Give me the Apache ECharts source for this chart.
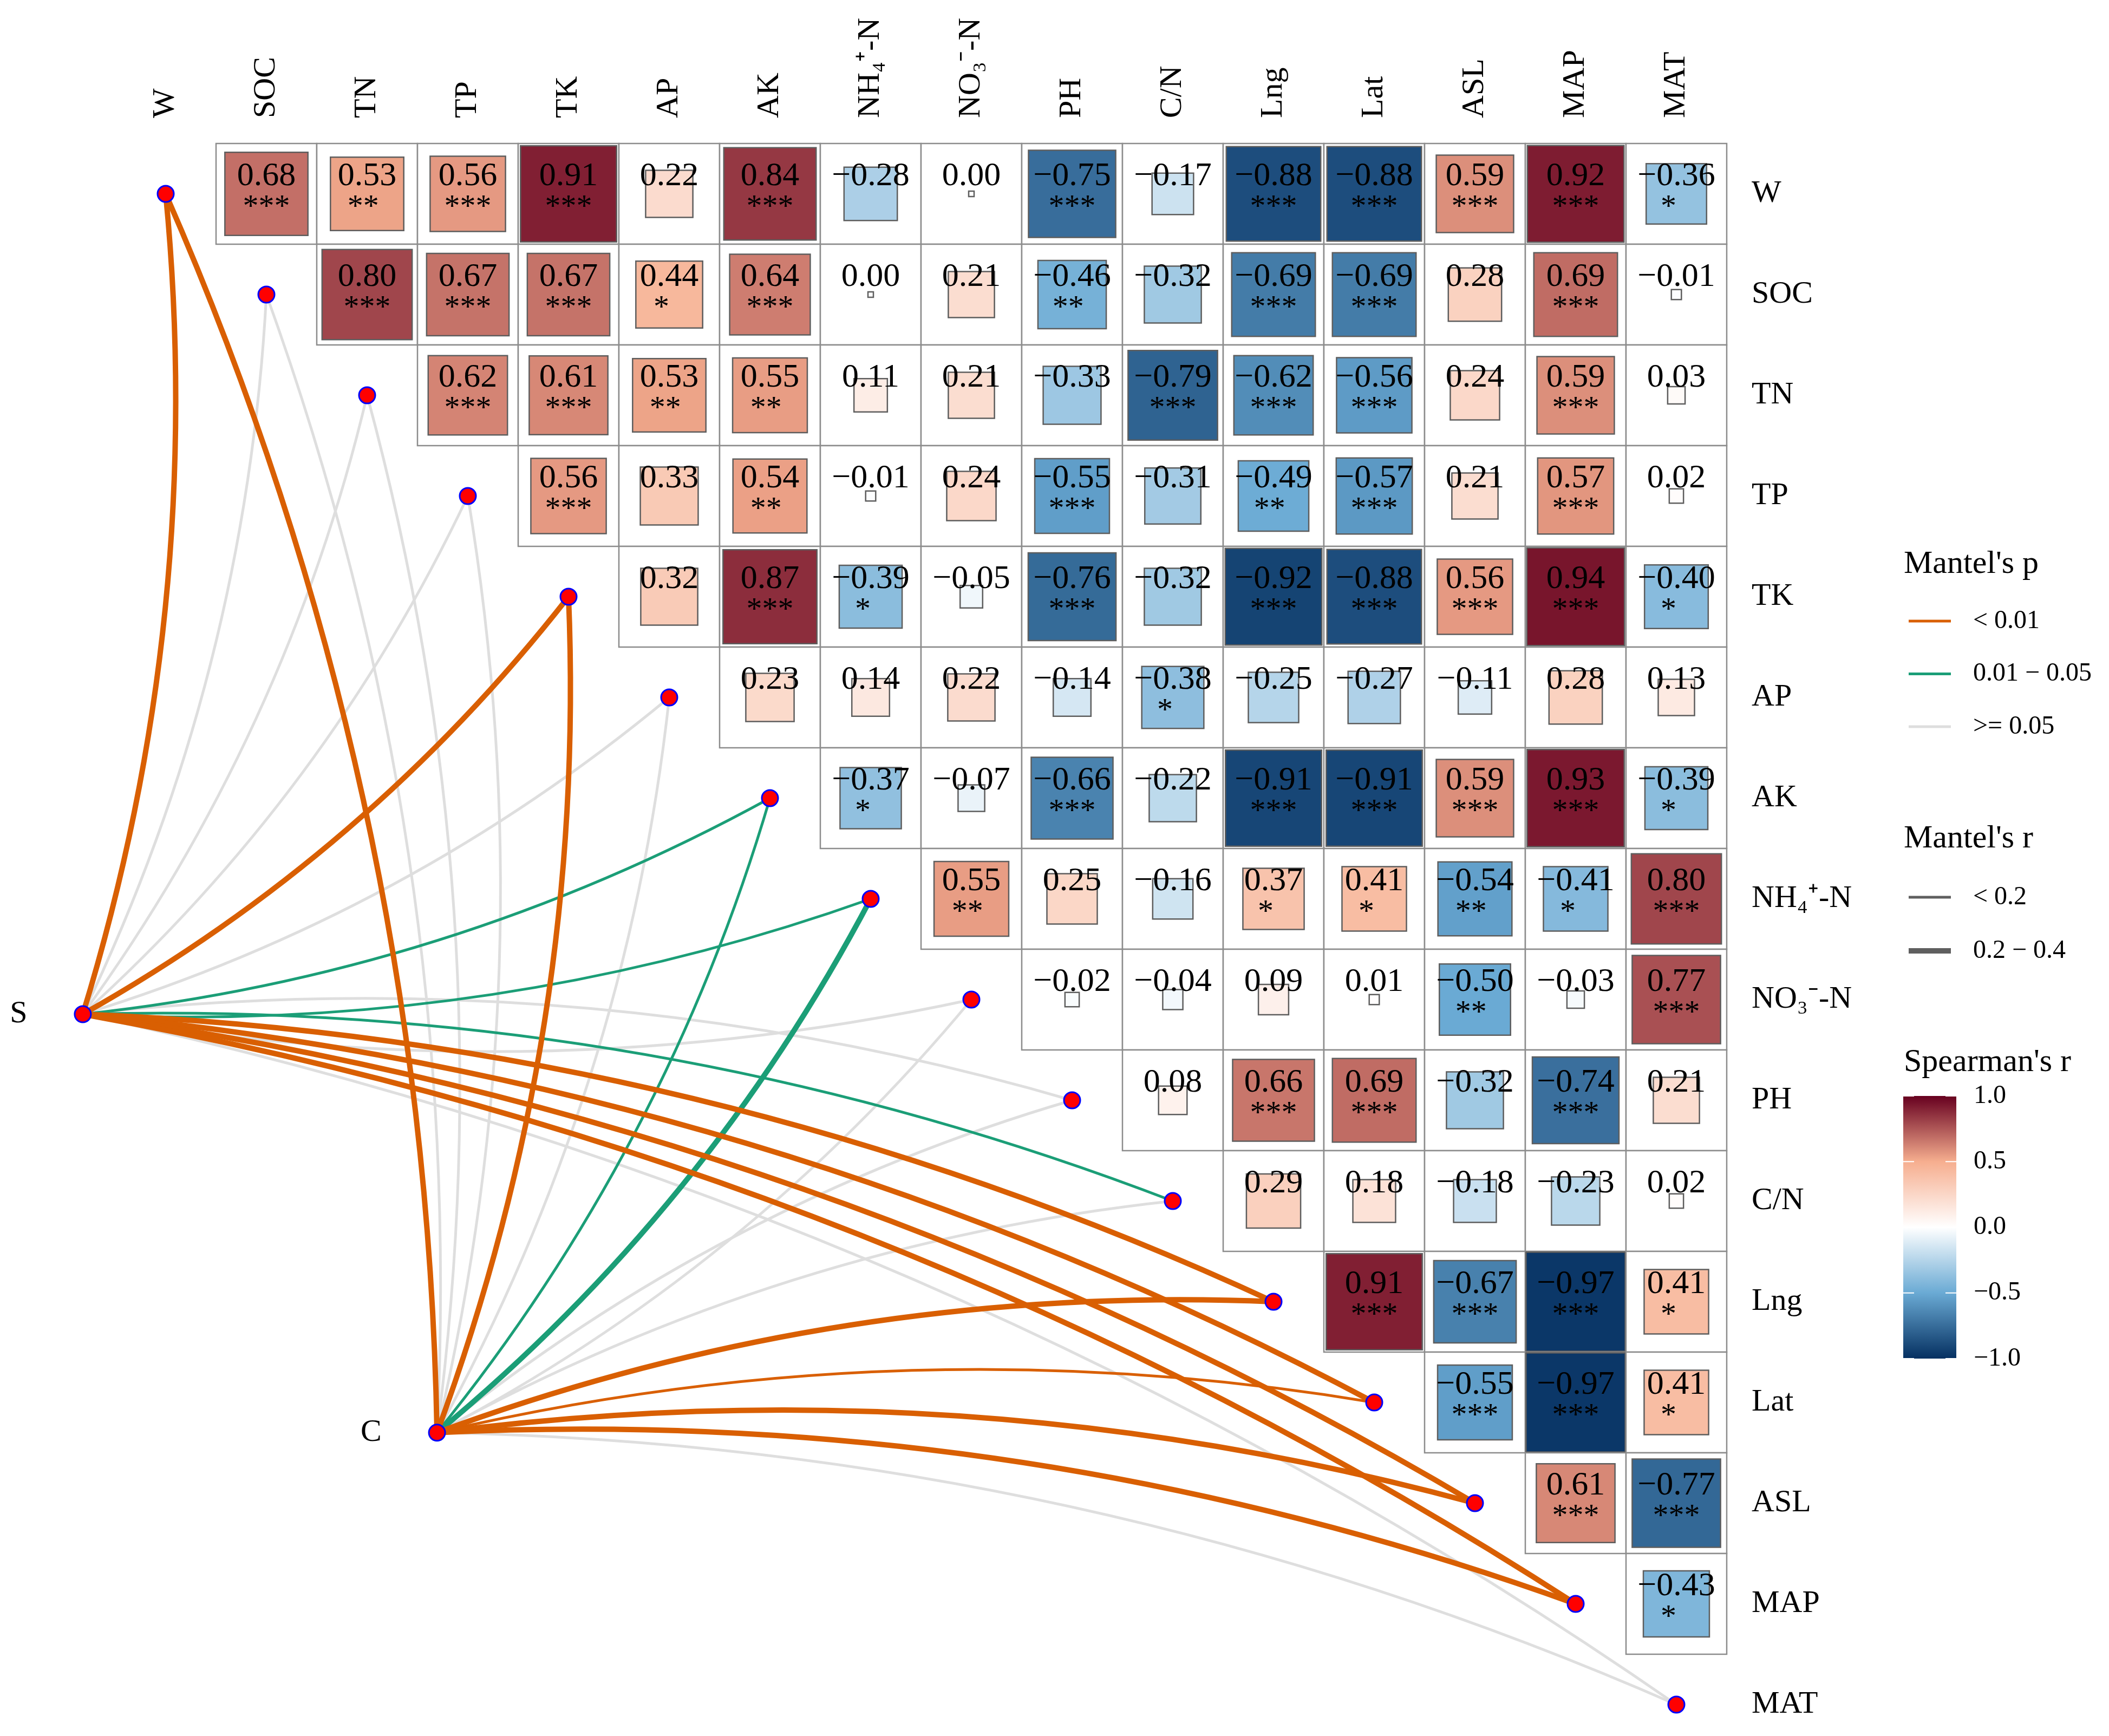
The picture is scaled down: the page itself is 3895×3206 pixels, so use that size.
<!DOCTYPE html>
<html><head><meta charset="utf-8">
<script src="https://cdn.jsdelivr.net/npm/echarts@6/dist/echarts.min.js"></script>
<style>html,body{margin:0;padding:0;background:#fff}#c{width:3895px;height:3206px}</style>
</head><body><div id="c"></div><script>
// ---------------- DATA ----------------
const variables = ['W','SOC','TN','TP','TK','AP','AK','NH\u2084\u207A-N','NO\u2083\u207B-N','PH','C/N','Lng','Lat','ASL','MAP','MAT'];

// Spearman's r, upper triangle: each row lists the columns to the right of the diagonal
const r_W   = [0.68,0.53,0.56,0.91,0.22,0.84,-0.28,0.00,-0.75,-0.17,-0.88,-0.88,0.59,0.92,-0.36];
const r_SOC = [0.80,0.67,0.67,0.44,0.64,0.00,0.21,-0.46,-0.32,-0.69,-0.69,0.28,0.69,-0.01];
const r_TN  = [0.62,0.61,0.53,0.55,0.11,0.21,-0.33,-0.79,-0.62,-0.56,0.24,0.59,0.03];
const r_TP  = [0.56,0.33,0.54,-0.01,0.24,-0.55,-0.31,-0.49,-0.57,0.21,0.57,0.02];
const r_TK  = [0.32,0.87,-0.39,-0.05,-0.76,-0.32,-0.92,-0.88,0.56,0.94,-0.40];
const r_AP  = [0.23,0.14,0.22,-0.14,-0.38,-0.25,-0.27,-0.11,0.28,0.13];
const r_AK  = [-0.37,-0.07,-0.66,-0.22,-0.91,-0.91,0.59,0.93,-0.39];
const r_NH4 = [0.55,0.25,-0.16,0.37,0.41,-0.54,-0.41,0.80];
const r_NO3 = [-0.02,-0.04,0.09,0.01,-0.50,-0.03,0.77];
const r_PH  = [0.08,0.66,0.69,-0.32,-0.74,0.21];
const r_CN  = [0.29,0.18,-0.18,-0.23,0.02];
const r_Lng = [0.91,-0.67,-0.97,0.41];
const r_Lat = [-0.55,-0.97,0.41];
const r_ASL = [0.61,-0.77];
const r_MAP = [-0.43];

// significance marks for the same cells
const s_W   = ['***','**','***','***','','***','','','***','','***','***','***','***','*'];
const s_SOC = ['***','***','***','*','***','','','**','','***','***','','***',''];
const s_TN  = ['***','***','**','**','','','','***','***','***','','***',''];
const s_TP  = ['***','','**','','','***','','**','***','','***',''];
const s_TK  = ['','***','*','','***','','***','***','***','***','*'];
const s_AP  = ['','','','','*','','','','',''];
const s_AK  = ['*','','***','','***','***','***','***','*'];
const s_NH4 = ['**','','','*','*','**','*','***'];
const s_NO3 = ['','','','','**','','***'];
const s_PH  = ['','***','***','','***',''];
const s_CN  = ['','','','',''];
const s_Lng = ['***','***','***','*'];
const s_Lat = ['***','***','*'];
const s_ASL = ['***','***'];
const s_MAP = ['*'];

// Mantel test classes, one per variable (same order as variables)
const mantel_S_p = ['<0.01','>=0.05','>=0.05','>=0.05','<0.01','>=0.05','0.01-0.05','0.01-0.05','>=0.05','>=0.05','0.01-0.05','<0.01','<0.01','<0.01','<0.01','>=0.05'];
const mantel_S_r = ['0.2-0.4','<0.2','<0.2','<0.2','0.2-0.4','<0.2','<0.2','<0.2','<0.2','<0.2','<0.2','0.2-0.4','0.2-0.4','0.2-0.4','0.2-0.4','<0.2'];
const mantel_C_p = ['<0.01','>=0.05','>=0.05','>=0.05','<0.01','>=0.05','0.01-0.05','0.01-0.05','>=0.05','>=0.05','>=0.05','<0.01','<0.01','<0.01','<0.01','>=0.05'];
const mantel_C_r = ['0.2-0.4','<0.2','<0.2','<0.2','0.2-0.4','<0.2','<0.2','0.2-0.4','<0.2','<0.2','<0.2','0.2-0.4','<0.2','0.2-0.4','0.2-0.4','<0.2'];

const legendP = ['< 0.01','0.01 \u2212 0.05','>= 0.05'];
const legendR = ['< 0.2','0.2 \u2212 0.4'];
const colorbarTicks = [1.0,0.5,0.0,-0.5,-1.0];

// ---------------- STYLE / LAYOUT ----------------
const FONT = '"Liberation Serif","Times New Roman",serif';
const spearmanColors = ['#053061','#6AAAD4','#FFFFFF','#F6AE8F','#67001F'];
const P_COLOR = {'<0.01':'#D95F02','0.01-0.05':'#1B9E77','>=0.05':'#DEDEDE'};
const P_ORDER = {'>=0.05':0,'0.01-0.05':1,'<0.01':2};
const R_WIDTH = {'<0.2':5,'0.2-0.4':10};
const envNodes = [{name:'S', pos:[-0.823, 8.145], p:mantel_S_p, r:mantel_S_r},
                  {name:'C', pos:[2.694, 12.30], p:mantel_C_p, r:mantel_C_r}];
const CURV = 0.1;
const MIN_SQUARE = 10;

const rRows = [r_W,r_SOC,r_TN,r_TP,r_TK,r_AP,r_AK,r_NH4,r_NO3,r_PH,r_CN,r_Lng,r_Lat,r_ASL,r_MAP];
const sRows = [s_W,s_SOC,s_TN,s_TP,s_TK,s_AP,s_AK,s_NH4,s_NO3,s_PH,s_CN,s_Lng,s_Lat,s_ASL,s_MAP];
const cells = [];
rRows.forEach((row, i) => row.forEach((r, k) => cells.push({j: i + 1 + k, i: i, r: r, sig: sRows[i][k]})));

function fmt(v) {
  const s = Math.abs(v).toFixed(2);
  return (v < 0 ? '\u2212' : '') + s;
}

const lineData = [];
envNodes.forEach(env => {
  variables.forEach((v, t) => {
    lineData.push({
      order: P_ORDER[env.p[t]],
      coords: [env.pos, [t, t]],
      lineStyle: {color: P_COLOR[env.p[t]], width: R_WIDTH[env.r[t]], curveness: t <= 8 ? -CURV : CURV, opacity: 1}
    });
  });
});
lineData.sort((a, b) => a.order - b.order);

const chart = echarts.init(document.getElementById('c'), null, {renderer: 'canvas'});

const legendX = 3516;
const graphics = [];
function gtext(x, y, text, size, align) {
  graphics.push({type:'text', x:x, y:y, style:{text:text, font: size + 'px ' + FONT, fill:'#000', align: align || 'left', verticalAlign:'middle'}});
}
gtext(legendX, 1042, "Mantel's p", 60);
legendP.forEach((lab, k) => {
  const y = 1147 + k * 97.5;
  const key = ['<0.01','0.01-0.05','>=0.05'][k];
  graphics.push({type:'line', shape:{x1:3525, y1:y, x2:3603, y2:y}, style:{stroke:P_COLOR[key], lineWidth:5}});
  gtext(3644, y, lab, 48);
});
gtext(legendX, 1549, "Mantel's r", 60);
legendR.forEach((lab, k) => {
  const y = 1657 + k * 99;
  const key = ['<0.2','0.2-0.4'][k];
  graphics.push({type:'line', shape:{x1:3525, y1:y, x2:3603, y2:y}, style:{stroke:'#5F5F5F', lineWidth:R_WIDTH[key]}});
  gtext(3644, y, lab, 48);
});
gtext(legendX, 1962, "Spearman's r", 60);
const barTop = 2024, barH = 485, barL = 3515, barW = 98;
graphics.push({type:'rect', shape:{x:barL, y:barTop, width:barW, height:barH}, style:{fill:{type:'linear', x:0, y:0, x2:0, y2:1, colorStops:
  spearmanColors.slice().reverse().map((c, k) => ({offset: k / (spearmanColors.length - 1), color: c}))}}});
colorbarTicks.forEach(v => {
  const y = barTop + (1 - v) / 2 * barH;
  graphics.push({type:'line', shape:{x1:barL, y1:y, x2:barL + 20, y2:y}, style:{stroke:'#fff', lineWidth:2}});
  graphics.push({type:'line', shape:{x1:barL + barW - 20, y1:y, x2:barL + barW, y2:y}, style:{stroke:'#fff', lineWidth:2}});
  gtext(3645, y, (v < 0 ? '\u2212' : '') + Math.abs(v).toFixed(1), 48);
});

const option = {
  animation: false,
  backgroundColor: '#ffffff',
  grid: {left: 27, top: 265, width: 3162, height: 2938.8},
  xAxis: {type: 'value', min: -1.5, max: 15.5, show: false},
  yAxis: {type: 'value', min: -0.5, max: 15.3, inverse: true, show: false},
  visualMap: {type: 'continuous', min: -1, max: 1, dimension: 2, seriesIndex: 0, show: false,
              inRange: {color: spearmanColors}},
  graphic: graphics,
  series: [
    {
      type: 'custom', coordinateSystem: 'cartesian2d', clip: false, z: 2,
      data: cells.map(c => [c.j, c.i, c.r]),
      renderItem: function (params, api) {
        const cell = cells[params.dataIndex];
        const c = api.coord([api.value(0), api.value(1)]);
        const cw = api.size([1, 1])[0];
        const s = Math.max(MIN_SQUARE, Math.sqrt(Math.abs(cell.r)) * cw);
        const kids = [
          {type:'rect', shape:{x:c[0]-cw/2, y:c[1]-cw/2, width:cw, height:cw}, style:{fill:'#fff', stroke:'#8C8C8C', lineWidth:2.5}},
          {type:'rect', shape:{x:c[0]-s/2, y:c[1]-s/2, width:s, height:s}, style:{fill: api.visual('color'), stroke:'#5E5E5E', lineWidth:2.5}},
          {type:'text', x:c[0], y:c[1]-0.175*cw, style:{text: fmt(cell.r), font:'62px ' + FONT, fill:'#000', align:'center', verticalAlign:'middle'}}
        ];
        if (cell.sig) {
          kids.push({type:'text', x:c[0], y:c[1]+0.14*cw, style:{text: cell.sig.padEnd(3, ' '), font:'58px ' + FONT, fill:'#000', align:'center', verticalAlign:'middle'}});
        }
        return {type:'group', children: kids};
      }
    },
    {
      type: 'lines', coordinateSystem: 'cartesian2d', z: 3, silent: true,
      data: lineData
    },
    {
      type: 'scatter', z: 4, symbol: 'circle', symbolSize: 30, silent: true,
      itemStyle: {color: '#FF0000', borderColor: '#0000FF', borderWidth: 3, opacity: 1},
      data: variables.map((v, i) => [i, i]).concat(envNodes.map(e => ({value: e.pos, label: {show: true, position: 'left', distance: 86, formatter: e.name, fontFamily: FONT, fontSize: 58, color: '#000'}})))
    },
    {
      type: 'custom', coordinateSystem: 'cartesian2d', clip: false, z: 5, silent: true,
      data: variables.map((v, i) => [i, i]),
      renderItem: function (params, api) {
        const c = api.coord([api.value(0), api.value(1)]);
        const name = variables[params.dataIndex];
        return {type:'group', children: [
          {type:'text', x:c[0], y:218, rotation: Math.PI / 2, style:{text:name, font:'58px ' + FONT, fill:'#000', align:'left', verticalAlign:'middle'}},
          {type:'text', x:3235, y:c[1], style:{text:name, font:'58px ' + FONT, fill:'#000', align:'left', verticalAlign:'middle'}}
        ]};
      }
    }
  ]
};
chart.setOption(option);
</script></body></html>
